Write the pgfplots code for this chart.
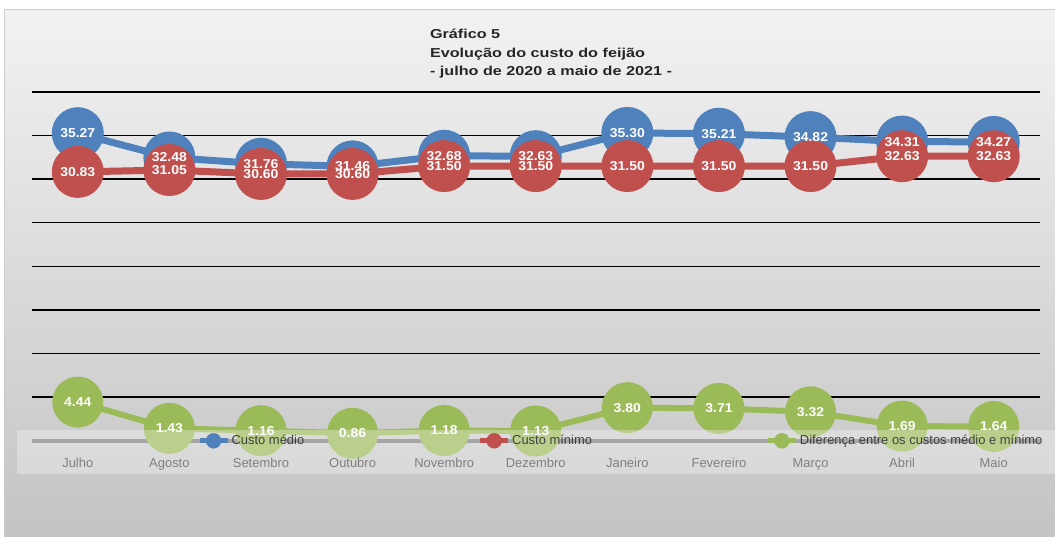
\documentclass[border=0pt]{standalone}
\usepackage{fontspec}
\setmainfont{Liberation Sans}
\newfontfamily\titlefont{Liberation Sans}[FakeStretch=1.25]
\newfontfamily\labelfont{Liberation Sans}[FakeStretch=1.08]
\usepackage{pgfplots}
\usepackage{pgfplotstable}
\pgfplotsset{compat=1.18}
\definecolor{cblue}{HTML}{4F81BD}
\definecolor{cred}{HTML}{C0504D}
\definecolor{cgreen}{HTML}{9BBB59}
\definecolor{gtext}{HTML}{7F7F7F}
\definecolor{ltext}{HTML}{404040}
\definecolor{axgray}{HTML}{808080}
\pgfplotsset{
  mylabels/.style={draw=none, mark=none, forget plot, point meta=explicit,
    nodes near coords={\pgfmathprintnumber[fixed,fixed zerofill,precision=2,assume math mode=true]{\pgfplotspointmeta}},
    every node near coord/.append style={anchor=center, inner sep=0pt, text=white, font=\labelfont\bfseries\fontsize{13}{15}\selectfont}},
  mygeom/.style={
    at={(32bp,96bp)}, anchor=south west,
    scale only axis, width=1008bp, height=349bp,
    xmin=-0.5, xmax=10.5, ymin=0, ymax=40,
    clip=false, axis line style={draw=none}, major tick length=0pt,
    xtick={0,...,10}}
}

\pgfplotstableread{
x medio minimo dif
0 35.27 30.83 4.44
1 32.48 31.05 1.43
2 31.76 30.60 1.16
3 31.46 30.60 0.86
4 32.68 31.50 1.18
5 32.63 31.50 1.13
6 35.30 31.50 3.80
7 35.21 31.50 3.71
8 34.82 31.50 3.32
9 34.31 32.63 1.69
10 34.27 32.63 1.64
}\data

\begin{document}
\begin{tikzpicture}[x=1bp,y=1bp]
\fill[white] (0,0) rectangle (1055,537);
\shade[top color={rgb,255:red,242;green,242;blue,242}, bottom color={rgb,255:red,196;green,196;blue,196}] (5,0) rectangle (1055,527);
\draw[color=black!20, line width=1bp] (5,0) -- (5,527) -- (1055,527);
\node[anchor=base west, inner sep=0pt, font=\titlefont\bfseries\fontsize{13}{15}\selectfont, text=black!85] at (430,498) {Gráfico 5};
\node[anchor=base west, inner sep=0pt, font=\titlefont\bfseries\fontsize{13}{15}\selectfont, text=black!85] at (430,479.5) {Evolução do custo do feijão};
\node[anchor=base west, inner sep=0pt, font=\titlefont\bfseries\fontsize{13}{15}\selectfont, text=black!85] at (430,461) {- julho de 2020 a maio de 2021 -};
\begin{axis}[mygeom,
  xticklabels={},
  ytick={5,10,...,40}, yticklabels={},
  ymajorgrids, major grid style={black, line width=1.4bp},
  extra y ticks={0}, extra y tick labels={},
  extra y tick style={major grid style={draw=axgray, line width=4bp}},
]
\addplot[cblue, line width=7bp, mark=*, mark size=22.5bp, mark options={draw=none, fill=cblue}]
  table[x=x,y=medio]{\data};
\addplot[cred, line width=7bp, mark=*, mark size=22.5bp, mark options={draw=none, fill=cred}]
  table[x=x,y=minimo]{\data};
\addplot[cgreen, line width=6bp, mark=*, mark size=22.5bp, mark options={draw=none, fill=cgreen}]
  table[x=x,y=dif]{\data};
\addplot[mylabels] table[x=x,y=medio,meta=medio]{\data};
\addplot[mylabels] table[x=x,y=minimo,meta=minimo]{\data};
\addplot[mylabels] table[x=x,y=dif,meta=dif]{\data};
\end{axis}
\fill[white, opacity=0.3] (17,107) rectangle (1055,63);
\begin{axis}[mygeom,
  ytick=\empty,
  xticklabels={Julho,Agosto,Setembro,Outubro,Novembro,Dezembro,Janeiro,Fevereiro,Março,Abril,Maio},
  xticklabel style={font=\fontsize{13}{15}\selectfont, text=gtext, anchor=base, yshift=-26.5bp},
  legend columns=3,
  legend style={at={(0.1637,0)}, anchor=west, draw=none, fill=none, inner sep=0pt,
    font=\fontsize{13}{15}\selectfont, text=ltext,
    nodes={inner sep=1.5bp},
    /tikz/every even column/.append style={column sep=172bp}},
]
\addlegendimage{legend image code/.code={\draw[cblue, line width=5bp] (0bp,0bp) -- (28bp,0bp); \fill[cblue] (14bp,0bp) circle (7.5bp);}}
\addlegendentry{Custo médio}
\addlegendimage{legend image code/.code={\draw[cred, line width=5bp] (0bp,0bp) -- (28bp,0bp); \fill[cred] (14bp,0bp) circle (7.5bp);}}
\addlegendentry{Custo mínimo}
\addlegendimage{legend image code/.code={\draw[cgreen, line width=5bp] (0bp,0bp) -- (28bp,0bp); \fill[cgreen] (14bp,0bp) circle (7.5bp);}}
\addlegendentry{Diferença entre os custos médio e mínimo}
\end{axis}
\end{tikzpicture}
\end{document}
